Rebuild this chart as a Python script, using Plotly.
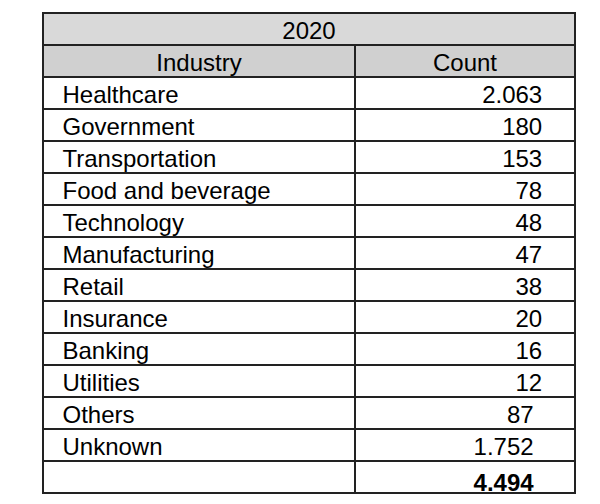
import plotly.graph_objects as go

year = "2020"
columns = ["Industry", "Count"]
industries = ["Healthcare", "Government", "Transportation", "Food and beverage",
              "Technology", "Manufacturing", "Retail", "Insurance", "Banking",
              "Utilities", "Others", "Unknown"]
counts = [2063, 180, 153, 78, 48, 47, 38, 20, 16, 12, 87, 1752]
total = 4494


def fmt(n):
    # thousands separator is a dot in the source
    return f"{n:,}".replace(",", ".")


nb = "\u00a0"
thin = "\u2009"
# last rows sit a bit further from the right border in the original
pads = [nb * 3 + thin] * 10 + [nb * 5] * 3
count_text = [fmt(c) for c in counts] + ["<b>" + fmt(total) + "</b>"]
count_text = [t + p for t, p in zip(count_text, pads)]
names = [nb + thin + s for s in industries] + [""]

W, H = 600, 504
off = 8  # page body margin shifts the plot
x0, x1 = (43 - off) / W, (575 - off) / W
bottom = 1 - (493 - off) / H
font = dict(family="Liberation Sans, Arial, sans-serif", size=24, color="black")
line = dict(color="#222222", width=2)

fig = go.Figure()

# top row spanning both columns
fig.add_trace(go.Table(
    domain=dict(x=[x0, x1], y=[1 - (45 - off) / H, 1 - (13 - off) / H]),
    header=dict(values=[year], fill_color="#d9d9d9", line=line, font=font,
                align="center", height=32),
    cells=dict(values=[[]], line=line, height=32),
))

fig.add_trace(go.Table(
    domain=dict(x=[x0, x1], y=[bottom, 1 - (45 - off) / H]),
    columnwidth=[312, 220],
    header=dict(values=columns, fill_color="#d0d0d0", line=line, font=font,
                align="center", height=32),
    cells=dict(values=[names, count_text],
               fill_color="white", line=line, font=font,
               align=["left", "right"], height=32),
))

# closing line under the total row
fig.add_shape(type="line", xref="paper", yref="paper", x0=x0 - 1 / W, x1=x1 + 1 / W,
              y0=bottom, y1=bottom, line=line, layer="above")

fig.update_layout(width=W, height=H, margin=dict(l=0, r=0, t=0, b=0),
                  paper_bgcolor="white", plot_bgcolor="white")
fig.write_html("out.html")
